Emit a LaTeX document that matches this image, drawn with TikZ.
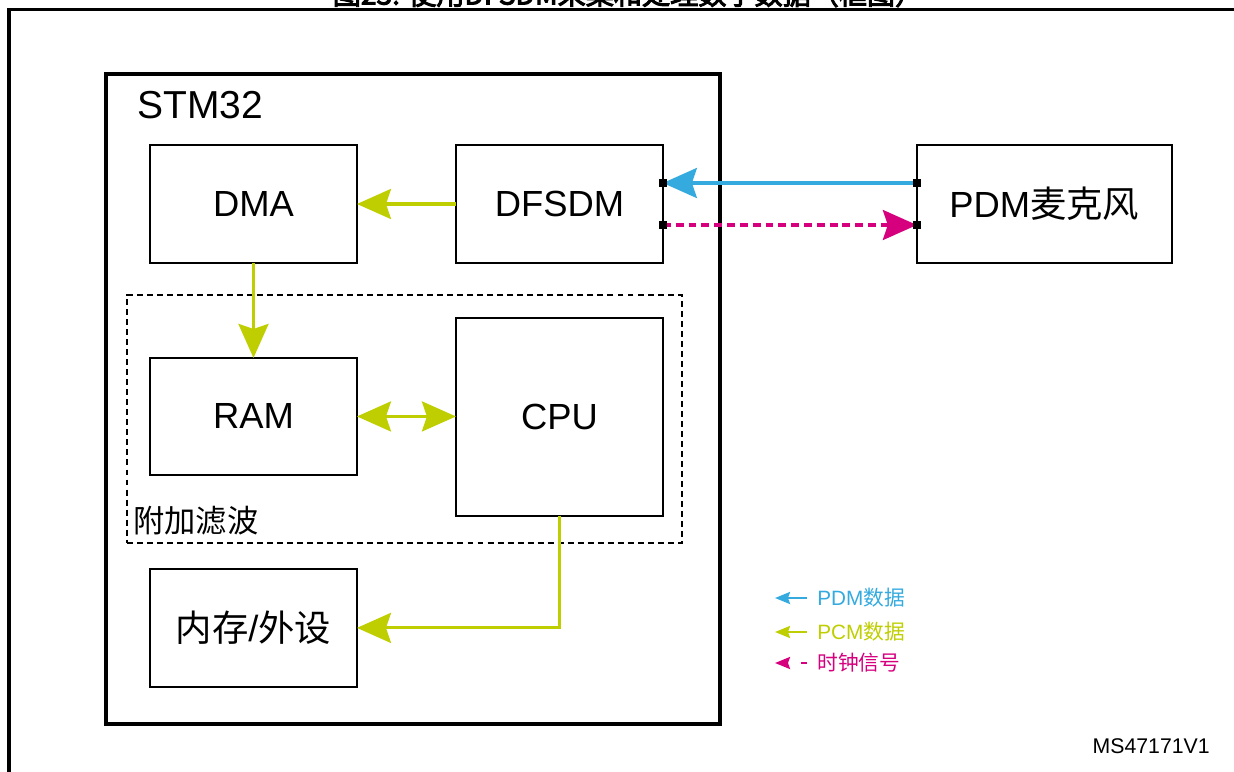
\documentclass[tikz,border=0pt]{standalone}
\usepackage{fontspec}
\setmainfont{Liberation Sans}
\newfontfamily\cjk{Noto Sans CJK SC}
\newfontfamily\cjkbold[FakeBold=3.5]{Noto Sans CJK SC}
\usepackage{tikz}
\usetikzlibrary{arrows.meta, positioning, calc}
\definecolor{pdmblue}{RGB}{52,170,222}
\definecolor{pcmgreen}{RGB}{190,206,0}
\definecolor{clkpink}{RGB}{214,0,127}

\begin{document}
\begin{tikzpicture}[
        x=0.02cm, y=-0.02cm,
        bigtip/.tip={Stealth[length=0.68cm, width=0.6cm, inset=0.1cm]},
        smalltip/.tip={Stealth[length=0.3cm, width=0.24cm, inset=0.04cm]},
        block/.style={rectangle, draw, line width=1.3pt, inner sep=0pt, outer sep=0pt,
                      minimum width=4.14cm, minimum height=2.36cm, font=\fontsize{20.7}{24}\selectfont},
        frame/.style={rectangle, draw, inner sep=0pt, outer sep=0pt, anchor=north west},
        port/.style={rectangle, fill=black, minimum size=0.15cm, inner sep=0pt},
        legend/.style={anchor=west, inner sep=0pt, font=\fontsize{11.8}{14}\selectfont},
        pcm/.style={draw=pcmgreen, line width=1.8pt, -{bigtip}},
        pdm/.style={draw=pdmblue, line width=1.8pt, -{bigtip}},
        clk/.style={draw=clkpink, line width=1.8pt, dash pattern=on 4.5pt off 2.8pt, -{bigtip}}
    ]
        \useasboundingbox (0,0) rectangle (1234,771);
        \node[anchor=base, inner sep=0pt, font={\fontsize{16}{18}\selectfont\cjkbold}] (title) at (628,4.5)
            {图23. 使用DFSDM采集和处理数字数据（框图）};
        \draw[line width=1.8pt] (9,800) -- (9,9.5) -- (1260,9.5);

        \node[frame, line width=2pt, minimum width=12.28cm, minimum height=13cm] (stm) at (106,74) {};
        \node[anchor=base west, inner sep=0pt, font=\fontsize{22.2}{26}\selectfont] (stmlabel) at (137,118) {STM32};
        \node[frame, line width=0.9pt, dash pattern=on 3.4pt off 2.3pt,
              minimum width=11.1cm, minimum height=4.96cm] (filt) at (127,295) {};
        \node[anchor=base west, inner sep=0pt, font=\fontsize{17.8}{20}\selectfont\cjk] (filtlabel) at (133,532) {附加滤波};

        \node[block, anchor=north west] (dma) at (150,145) {DMA};
        \node[block, right=1.98cm of dma] (dfsdm) {DFSDM};
        \node[block, right=5.08cm of dfsdm, minimum width=5.1cm] (mic) {PDM{\cjk 麦克风}};
        \node[block, below=1.9cm of dma, minimum height=2.34cm] (ram) {RAM};
        \node[block, below=1.1cm of dfsdm, minimum height=3.96cm] (cpu) {CPU};
        \node[block, below=1.88cm of ram] (mem) {{\cjk 内存}/{\cjk 外设}};

        \coordinate (dfsdm-pdm) at ($(dfsdm.north east)+(0,38)$);
        \coordinate (dfsdm-clk) at ($(dfsdm.north east)+(0,80)$);
        \coordinate (mic-pdm) at (dfsdm-pdm -| mic.west);
        \coordinate (mic-clk) at (dfsdm-clk -| mic.west);

        \draw[pcm] (dfsdm) -- (dma);
        \draw[pcm] (dma) -- (ram);
        \draw[pcm, {bigtip}-{bigtip}] (ram.east) -- (ram.east -| cpu.west);
        \draw[pcm] (cpu.south) |- (mem.east);
        \draw[pdm] (mic-pdm) -- (dfsdm-pdm);
        \draw[clk] (dfsdm-clk) -- (mic-clk);
        \foreach \p in {dfsdm-pdm, dfsdm-clk, mic-pdm, mic-clk}
            \node[port] (sq-\p) at (\p) {};

        \node[legend, text=pdmblue] (lg-pdm) at (817,598) {PDM{\cjk 数据}};
        \node[legend, text=pcmgreen] (lg-pcm) at (817,632) {PCM{\cjk 数据}};
        \node[legend, text=clkpink] (lg-clk) at (817,663) {\cjk 时钟信号};
        \draw[draw=pdmblue, line width=1.3pt, -{smalltip}] ([xshift=-0.2cm]lg-pdm.west) -- ++(-0.64cm,0);
        \draw[draw=pcmgreen, line width=1.3pt, -{smalltip}] ([xshift=-0.2cm]lg-pcm.west) -- ++(-0.64cm,0);
        \draw[draw=clkpink, line width=1.3pt, dash pattern=on 3.4pt off 10pt, -{smalltip}]
            ([xshift=-0.2cm]lg-clk.west) -- ++(-0.64cm,0);

        \node[anchor=base east, inner sep=0pt, font=\fontsize{12.1}{14}\selectfont] (code) at (1210,753) {MS47171V1};
    \end{tikzpicture}
\end{document}
